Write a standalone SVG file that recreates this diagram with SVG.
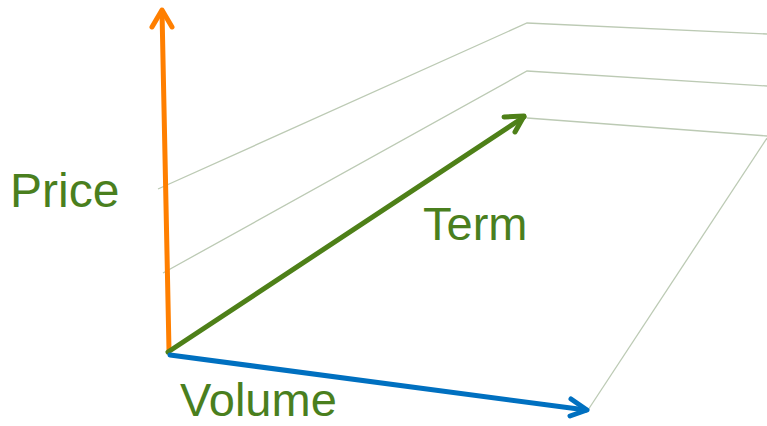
<svg xmlns="http://www.w3.org/2000/svg" width="767" height="426" viewBox="0 0 767 426">
<style>
.grid{fill:none;stroke:#bccab4;stroke-width:1.3}
.ax{fill:none;stroke-width:5;stroke-linecap:round;stroke-linejoin:round}
.lbl{font-family:"Liberation Sans",Arial,sans-serif;font-size:48px;fill:#4a7f1e}
</style>
<rect width="767" height="426" fill="#fff"/>
<g id="grid">
<polyline class="grid" points="158,189 527,23 767,34"/>
<polyline class="grid" points="163,273 527,71 767,86"/>
<polyline class="grid" points="527,118 767,136"/>
<line class="grid" x1="588" y1="410" x2="767" y2="138"/>
</g>
<g id="connectors">
<g id="price-axis">
<line class="ax" stroke="#ff7f00" x1="169" y1="350" x2="162" y2="11"/>
<polyline class="ax" stroke="#ff7f00" points="152,27 162,10 172,27"/>
</g>
<g id="term-axis">
<line class="ax" stroke="#4e8018" x1="168" y1="352" x2="524" y2="117"/>
<polyline class="ax" stroke="#4e8018" points="504,117 524,116 515,132"/>
</g>
<g id="volume-axis">
<line class="ax" stroke="#0070c0" x1="170" y1="355" x2="586" y2="410"/>
<polyline class="ax" stroke="#0070c0" points="571,399 587,410 570,416"/>
</g>
</g>
<g id="price"><text class="lbl" x="10" y="207">Price</text></g>
<g id="term"><text class="lbl" x="423" y="240" style="font-size:47px">Term</text></g>
<g id="volume"><text class="lbl" x="180" y="416" style="font-size:47px">Volume</text></g>
</svg>
